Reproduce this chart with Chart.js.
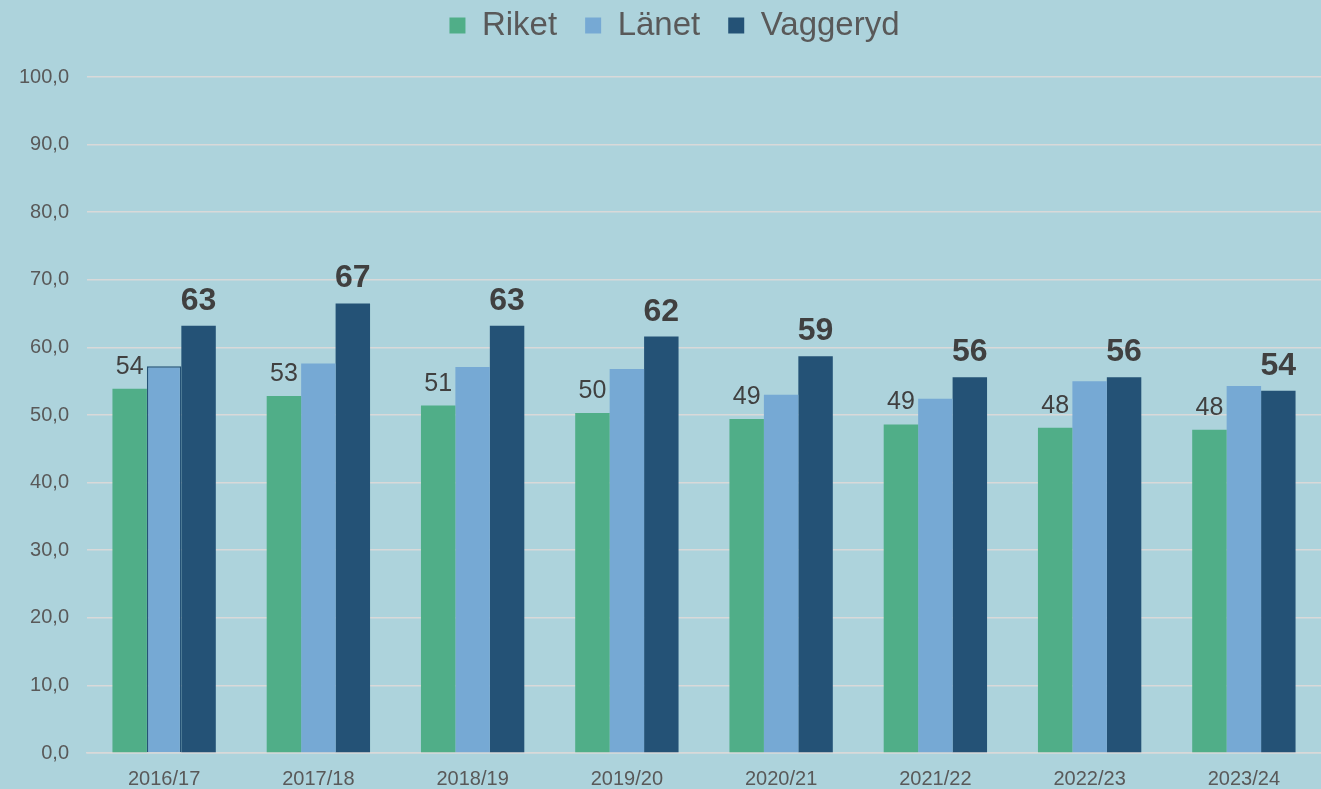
<!DOCTYPE html>
<html>
<head>
<meta charset="utf-8">
<script src="https://cdn.jsdelivr.net/npm/chart.js@4.4.1/dist/chart.umd.min.js"></script>
<style>
  html, body { margin: 0; padding: 0; background: #add3dc; }
  #wrap { width: 1321px; height: 789px; position: relative; }
</style>
</head>
<body>
<div id="wrap"><canvas id="c" width="1321" height="789"></canvas></div>
<script>
const categories = ['2016/17','2017/18','2018/19','2019/20','2020/21','2021/22','2022/23','2023/24'];
const riket    = [53.9, 52.8, 51.4, 50.3, 49.4, 48.6, 48.1, 47.8];
const lanet    = [57.2, 57.6, 57.1, 56.8, 53.0, 52.4, 55.0, 54.3];
const vaggeryd = [63.2, 66.5, 63.2, 61.6, 58.7, 55.6, 55.6, 53.6];
const seriesNames = ['Riket', 'Länet', 'Vaggeryd'];
const yTicks = [0,10,20,30,40,50,60,70,80,90,100];

const FONT = '"Liberation Sans", Arial, sans-serif';

const labelPlugin = {
  id: 'barLabels',
  afterDatasetsDraw(chart) {
    const ctx = chart.ctx;
    ctx.save();
    ctx.textAlign = 'center';
    ctx.textBaseline = 'alphabetic';
    ctx.fillStyle = '#404040';
    chart.data.datasets.forEach((ds, di) => {
      if (di === 1) return;
      const meta = chart.getDatasetMeta(di);
      meta.data.forEach((bar, i) => {
        const v = ds.data[i];
        if (di === 0) {
          ctx.font = '25px ' + FONT;
          ctx.fillText(String(Math.round(v)), bar.x, bar.y - 15);
        } else {
          ctx.font = 'bold 32px ' + FONT;
          ctx.fillText(String(Math.round(v)), bar.x, bar.y - 16);
        }
      });
    });
    ctx.restore();
  }
};

const bg = {
  id: 'bg',
  beforeDraw(chart) {
    const ctx = chart.ctx;
    ctx.save();
    ctx.fillStyle = '#add3dc';
    ctx.fillRect(0, 0, chart.width, chart.height);
    ctx.restore();
  }
};

// move the legend up/right so that it sits like the reference
const legendShift = {
  id: 'legendShift',
  afterLayout(chart) {
    const lg = chart.legend;
    if (!lg) return;
    const dy = -25, dx = 14;
    lg.top += dy;
    lg.bottom += dy;
    lg.left += dx;
    lg.right += dx;
    if (lg.adjustHitBoxes) lg.adjustHitBoxes();
  }
};

new Chart(document.getElementById('c'), {
  type: 'bar',
  data: {
    labels: categories,
    datasets: [
      { label: seriesNames[0], data: riket, backgroundColor: '#50ae88', borderWidth: 0 },
      { label: seriesNames[1], data: lanet, backgroundColor: '#76a9d4',
        borderColor: '#245276', borderWidth: [1.5,0,0,0,0,0,0,0] },
      { label: seriesNames[2], data: vaggeryd, backgroundColor: '#245276', borderWidth: 0 }
    ]
  },
  options: {
    responsive: false,
    animation: false,
    layout: { padding: { top: 6, right: 0, left: 0, bottom: 0 } },
    datasets: { bar: { categoryPercentage: 0.67, barPercentage: 1.0 } },
    plugins: {
      legend: {
        position: 'top',
        labels: {
          color: '#595959',
          font: { family: FONT, size: 33 },
          boxWidth: 16, boxHeight: 16,
          padding: 28,
          generateLabels(chart) {
            const items = Chart.defaults.plugins.legend.labels.generateLabels(chart);
            items.forEach(it => { it.lineWidth = 0; it.strokeStyle = it.fillStyle; });
            return items;
          }
        }
      },
      tooltip: { enabled: false }
    },
    scales: {
      x: {
        grid: { display: false, drawTicks: false },
        border: { color: '#d9d9d9', width: 1.5 },
        ticks: { color: '#595959', font: { family: FONT, size: 20 }, padding: 14, maxRotation: 0 },
        afterFit(scale) { scale.height = 36; }
      },
      y: {
        min: 0, max: 100,
        afterBuildTicks(scale) { scale.ticks = yTicks.map(v => ({ value: v })); },
        grid: { color: '#d9d9d9', lineWidth: 1.5, drawTicks: false },
        border: { display: false },
        ticks: {
          color: '#595959', font: { family: FONT, size: 20 }, padding: 18,
          callback: (v) => Number(v).toFixed(1).replace('.', ',')
        },
        afterFit(scale) { scale.width = 87; }
      }
    }
  },
  plugins: [bg, labelPlugin, legendShift]
});
</script>
</body>
</html>
